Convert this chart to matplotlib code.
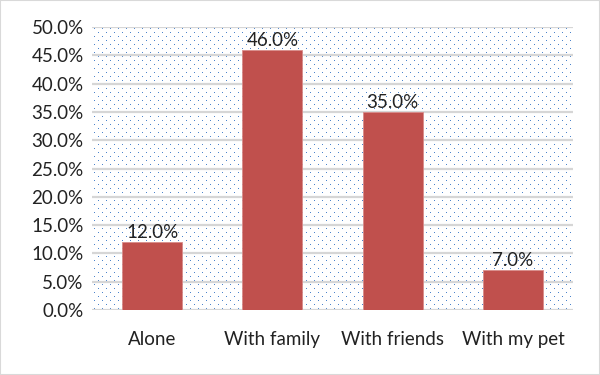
import numpy as np
import matplotlib.pyplot as plt
from matplotlib.patches import Rectangle
from matplotlib.ticker import FuncFormatter

categories = ['Alone', 'With family', 'With friends', 'With my pet']
values = [0.12, 0.46, 0.35, 0.07]

plt.rcParams['font.family'] = ['Lato', 'DejaVu Sans']

W, H = 600, 375
fig = plt.figure(figsize=(W / 100, H / 100), dpi=100)
# axes placed on whole pixels so the dot texture maps 1:1
ax = fig.add_axes([92 / W, 65 / H, 481 / W, 283 / H])

# dotted background texture (pixel tile)
h, w = 283, 481
tex = np.ones((h, w, 3))
dot = np.array([0.30, 0.52, 0.80])
for r in range(1, h, 4):
    off = 2 if (r // 4) % 2 == 0 else 6
    tex[r, off::8] = dot
ax.imshow(tex, extent=(0, 1, 0, 1), transform=ax.transAxes, aspect='auto',
          interpolation='nearest', zorder=0)

x = range(len(categories))
bars = ax.bar(x, values, width=0.5, color='#C0504D', edgecolor='#d98c8a',
              linewidth=0.6, zorder=3)
for b, v in zip(bars, values):
    ax.text(b.get_x() + b.get_width() / 2, v + 0.002, f'{v*100:.1f}%',
            ha='center', va='bottom', fontsize=13.5, color='#222222', zorder=4)

ax.set_ylim(0, 0.5)
ax.set_xlim(-0.5, 3.5)
ax.set_yticks([i * 0.05 for i in range(11)])
ax.yaxis.set_major_formatter(FuncFormatter(lambda v, p: f'{v*100:.1f}%'))
ax.set_xticks(list(x))
ax.set_xticklabels(categories)
ax.grid(axis='y', color='#d6d6d6', linewidth=1.6, zorder=1)
for s in ax.spines.values():
    s.set_visible(False)
ax.tick_params(length=0, labelsize=13.5, colors='#222222')
ax.tick_params(axis='x', pad=15)
ax.tick_params(axis='y', pad=6)

fig.patches.append(Rectangle((0, 0), 1, 1, transform=fig.transFigure,
                             fill=False, edgecolor='#d9d9d9', linewidth=1.5))
fig.savefig('out.png')
